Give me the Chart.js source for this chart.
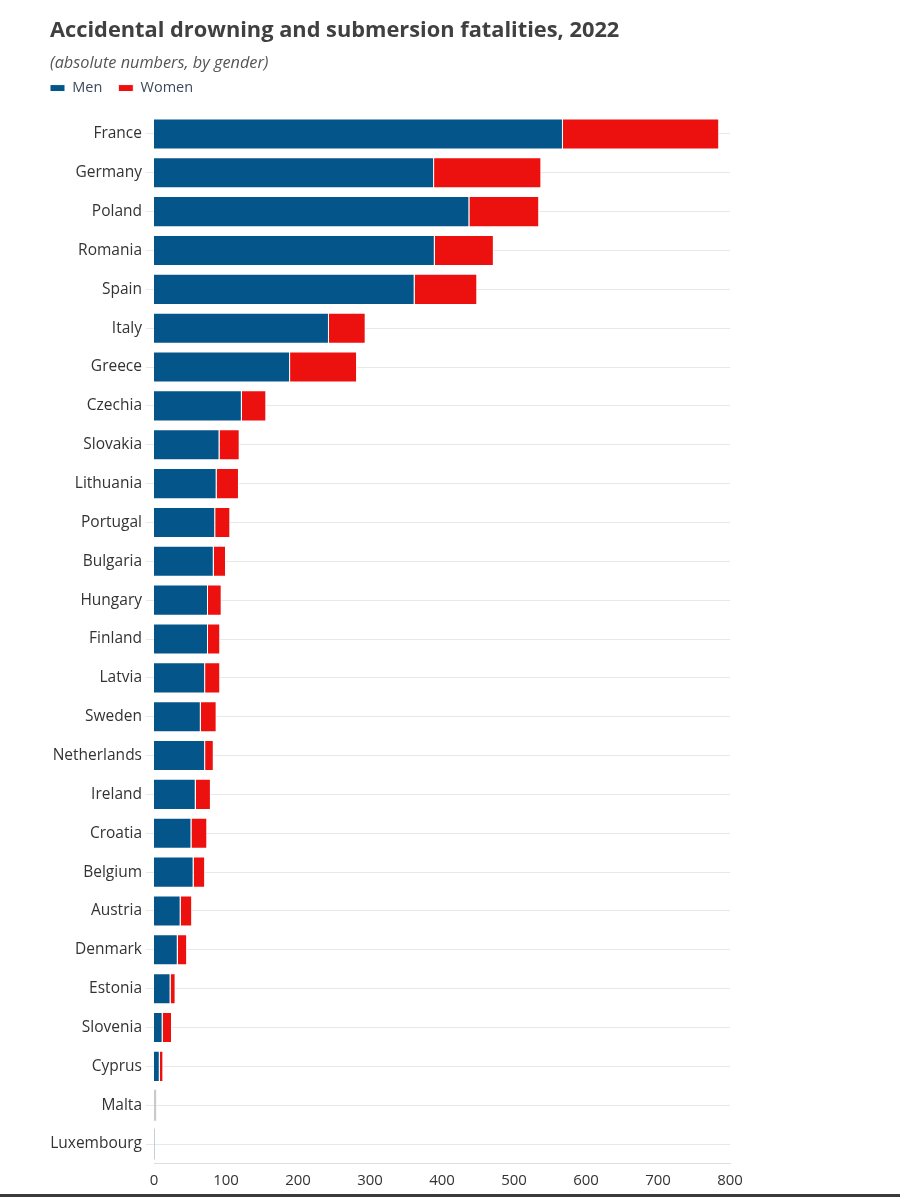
<!DOCTYPE html>
<html>
<head>
<meta charset="utf-8">
<script src="https://cdn.jsdelivr.net/npm/chart.js@4/dist/chart.umd.min.js"></script>
<style>
  body { margin: 0; background: #fff; }
  #wrap { width: 900px; }
  #chart { display: block; }
  .bottom-rule { height: 3px; background: #3a3a3a; }
</style>
</head>
<body>
<div id="wrap">
  <canvas id="chart" width="900" height="1194"></canvas>
  <div class="bottom-rule"></div>
</div>
<script>
// values
const countries = ["France", "Germany", "Poland", "Romania", "Spain", "Italy", "Greece", "Czechia",
    "Slovakia", "Lithuania", "Portugal", "Bulgaria", "Hungary", "Finland", "Latvia", "Sweden",
    "Netherlands", "Ireland", "Croatia", "Belgium", "Austria", "Denmark", "Estonia", "Slovenia",
    "Cyprus", "Malta", "Luxembourg"];
const men = [568, 389, 438, 390, 362, 243, 189, 122, 91, 87, 85, 83, 75, 75, 71, 65, 71, 58, 52, 55, 37, 33, 23, 12, 8, 1, 1];
const women = [217, 149, 97, 82, 87, 51, 93, 34, 28, 31, 21, 17, 19, 17, 21, 22, 12, 21, 22, 16, 16, 13, 7, 13, 5, 2, 0];
const xTicks = [0, 100, 200, 300, 400, 500, 600, 700, 800];
// these two are drawn washed out in the original
const fadedCountries = ["Malta", "Luxembourg"];

const FONT = "'Open Sans', 'Noto Sans', sans-serif";

const isFaded = (ctx) => fadedCountries.includes(countries[ctx.dataIndex]);
const barColor = (normal, faded) => (ctx) => (isFaded(ctx) ? faded : normal);
const barBorder = (ctx) => (isFaded(ctx) ? 0 : 1);

// move the legend so it lines up with the title, like the original
const legendNudge = {
    id: "legendNudge",
    afterLayout(chart) {
        chart.legend.left -= 16;
        chart.legend.top -= 9.2;
    },
};

new Chart(document.getElementById("chart"), {
    type: "bar",
    data: {
        labels: countries,
        datasets: [
            {
                label: "Men",
                data: men,
                backgroundColor: barColor("#04568a", "#a9c0d0"),
                borderColor: "#ffffff",
                borderWidth: barBorder,
                barPercentage: 0.8,
                categoryPercentage: 1,
            },
            {
                label: "Women",
                data: women,
                backgroundColor: barColor("#ec100e", "#d8c4c6"),
                borderColor: "#ffffff",
                borderWidth: barBorder,
                barPercentage: 0.8,
                categoryPercentage: 1,
            },
        ],
    },
    options: {
        indexAxis: "y",
        responsive: false,
        animation: false,
        layout: { padding: { left: 50, right: 170, top: 0, bottom: 0 } },
        scales: {
            x: {
                stacked: true,
                min: 0,
                max: 800,
                afterBuildTicks: (scale) => {
                    scale.ticks = xTicks.map((v) => ({ value: v }));
                },
                afterFit: (scale) => {
                    scale.height = 30.5;
                },
                grid: { display: false, drawTicks: false },
                border: { display: true, color: "#dedede" },
                ticks: { padding: 8.5, color: "#333", font: { family: FONT, size: 15 } },
            },
            y: {
                stacked: true,
                afterFit: (scale) => {
                    scale.width = 104;
                },
                grid: { color: "#e8e8e8", offset: false, drawTicks: true, tickLength: 8 },
                border: { display: false },
                ticks: { padding: 4, color: "#333", font: { family: FONT, size: 15.5 } },
            },
        },
        plugins: {
            title: {
                display: true,
                text: "Accidental drowning and submersion fatalities, 2022",
                align: "start",
                color: "#404040",
                font: { family: FONT, size: 21.8, weight: "bold" },
                padding: { top: 17.5, bottom: 9.5 },
            },
            subtitle: {
                display: true,
                text: "(absolute numbers, by gender)",
                align: "start",
                color: "#555",
                font: { family: FONT, size: 16.3, style: "italic" },
                padding: { top: 0, bottom: 1.3 },
            },
            legend: {
                align: "start",
                labels: {
                    boxWidth: 15,
                    boxHeight: 7,
                    padding: 16,
                    color: "#3b4a5a",
                    font: { family: FONT, size: 14.5 },
                },
            },
            tooltip: { enabled: false },
        },
    },
    plugins: [legendNudge],
});
</script>
</body>
</html>
